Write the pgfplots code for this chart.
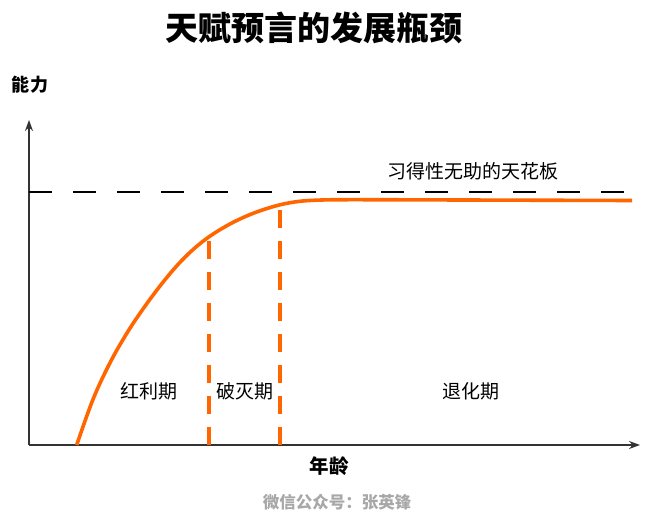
\documentclass[border=0pt]{standalone}
\usepackage{pgfplots}
\pgfplotsset{compat=1.18}
\usepackage{fontspec}
\setmainfont{Noto Sans CJK SC}
\usetikzlibrary{arrows.meta}
\definecolor{curveorange}{HTML}{FF6600}
\definecolor{axisgray}{HTML}{333333}
\definecolor{footgray}{HTML}{A8A8A8}
\begin{document}
\begin{tikzpicture}
\path[use as bounding box] (-29pt,-79pt) rectangle (623pt,445pt);
\begin{axis}[
  at={(0pt,0pt)}, anchor=south west,
  scale only axis, width=611pt, height=325pt,
  xmin=0, xmax=611, ymin=0, ymax=325,
  axis lines=left,
  axis line style={axisgray, line width=1.3pt, -{Stealth[length=11pt,width=8pt]}},
  xtick=\empty, ytick=\empty,
  clip=false,
]
% ceiling
\addplot[black, line width=1.1pt, dash pattern=on 23pt off 21pt] coordinates {(0,253) (603,253)};
% curve
\addplot[curveorange, line width=3.6pt, smooth, tension=0.6] coordinates {
 (47.7,0) (64,45.6) (81,82.2) (98,112) (114,136) (131,159) (148,179.4) (164,195.4) (180,208.2) (198,219.4) (214,227.4) (231,234.2) (251,240.2) (270,243.6) (290,244.9) (320,245.3) (400,245.1) (500,244.8) (603,244.5)
};
% phase separators
\addplot[curveorange, line width=3.4pt, dash pattern=on 18pt off 13pt] coordinates {(180,0) (180,208)};
\addplot[curveorange, line width=3.4pt, dash pattern=on 18pt off 13pt] coordinates {(251,0) (251,240)};
% texts
\node[font=\fontsize{33}{36}\selectfont\bfseries] at (axis cs:285,417) {天赋预言的发展瓶颈};
\node[font=\fontsize{18}{20}\selectfont\bfseries] at (axis cs:1,360) {能力};
\node[font=\fontsize{19.5}{22}\selectfont\bfseries] at (axis cs:300,-21) {年龄};
\node[font=\fontsize{19}{21}\selectfont] at (axis cs:444,274) {习得性无助的天花板};
\node[font=\fontsize{19}{21}\selectfont] at (axis cs:120,54) {红利期};
\node[font=\fontsize{19}{21}\selectfont] at (axis cs:216,54) {破灭期};
\node[font=\fontsize{19}{21}\selectfont] at (axis cs:442,54) {退化期};
\node[font=\fontsize{16.5}{18}\selectfont\bfseries, text=footgray] at (axis cs:308,-57) {微信公众号：张英锋};
\end{axis}
\end{tikzpicture}
\end{document}
